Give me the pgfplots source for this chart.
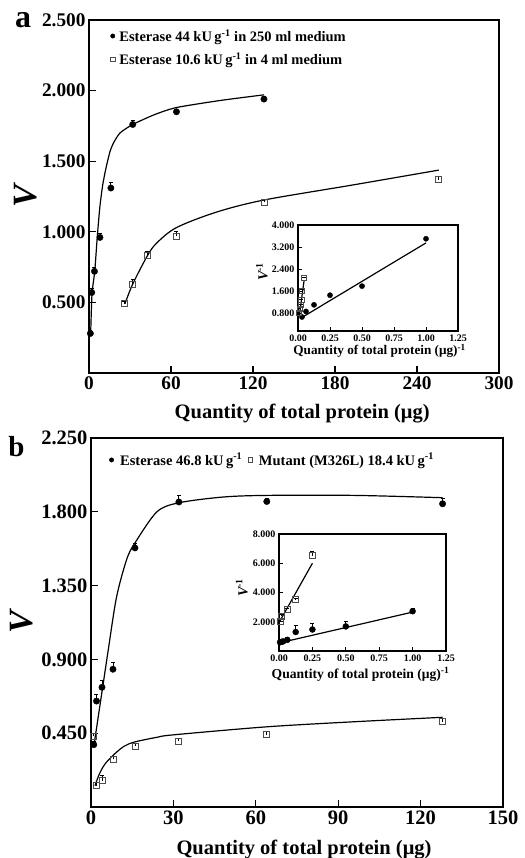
\documentclass[border=0pt]{standalone}
\usepackage{fontspec}
\setmainfont{Liberation Serif}
\usepackage{pgfplots}
\pgfplotsset{compat=1.18}

\pgfplotsset{
  panel/.style={
    scale only axis, tick pos=left, tick align=inside,
    axis line style={line width=1.5pt},
    major tick style={line width=1.2pt, black},
    major tick length=7pt,
    /pgf/number format/assume math mode=true,
    enlargelimits=false,
  },
  inset/.style={
    panel,
    axis background/.style={fill=white},
    axis line style={line width=1.2pt},
    major tick style={line width=0.9pt, black},
    major tick length=4pt,
    tick label style={font=\fontsize{10}{12}\selectfont\bfseries},
    x tick label style={/pgf/number format/.cd, fixed, fixed zerofill, precision=2},
    y tick label style={/pgf/number format/.cd, fixed, fixed zerofill, precision=3},
  },
  fitline/.style={black, line width=1.2pt, forget plot},
  ebars/.style={
    error bars/y dir=plus, error bars/y explicit,
    error bars/error bar style={line width=0.8pt, black},
    error bars/error mark options={rotate=90, mark size=2pt, line width=0.8pt, black}},
  dots/.style={only marks, mark=*, black, mark size=3.2pt, ebars},
  boxes/.style={only marks, mark=square, black!70, mark size=3pt,
    mark options={line width=0.8pt}, ebars},
  smallmark/.style={legend image code/.code={\draw[##1, mark size=2.2pt] plot coordinates {(0.1cm,0cm)}; \path (0cm,0cm) (0.22cm,0cm);}},
}

\begin{document}
\begin{tikzpicture}
\useasboundingbox (0,0) rectangle (524pt,-858pt);

\node[anchor=base, font=\fontsize{32}{34}\selectfont\bfseries] at (23pt,-27.3pt) {a};
\node[anchor=base, font=\fontsize{29}{31}\selectfont\bfseries] at (16.5pt,-456.7pt) {b};

% ---------------- panel a ----------------
\begin{axis}[panel, at={(89pt,-20pt)}, anchor=north west,
  width=410pt, height=353pt,
  xmin=0, xmax=300, ymin=0, ymax=2.5,
  xtick={0,60,...,300}, ytick={0.5,1,1.5,2,2.5},
  tick label style={font=\fontsize{19.3}{22}\selectfont\bfseries},
  y tick label style={/pgf/number format/.cd, fixed, fixed zerofill, precision=3},
  xlabel={Quantity of total protein (μg)},
  xlabel style={font=\fontsize{20.5}{24}\selectfont\bfseries,
    at={(axis description cs:0.52,-0.1303)}, anchor=base},
  ylabel={\itshape V},
  ylabel style={font=\fontsize{34}{36}\selectfont\bfseries,
    at={(axis description cs:-0.1537,0.5)}, anchor=center},
  legend style={draw=none, fill=none, inner sep=0pt, row sep=8pt,
    nodes={inner xsep=3pt, inner ysep=1pt},
    at={(axis description cs:0.05,0.977)}, anchor=north west,
    font=\fontsize{14.5}{17}\selectfont\bfseries},
  legend cell align=left,
]
\addplot[dots, smallmark] table[x=x, y=y, y error=e] {
x y e
1 0.28 0.02
2 0.57 0.03
4 0.72 0.03
8 0.96 0.03
16 1.31 0.04
32 1.76 0.03
64 1.85 0.02
128 1.94 0.02
};
\addlegendentry{Esterase 44 kU\,g\textsuperscript{-1} in 250 ml medium}
\addplot[boxes, smallmark] table[x=x, y=y, y error=e] {
x y e
25.6 0.49 0.02
32 0.63 0.03
42.7 0.83 0.03
64 0.97 0.03
128 1.21 0.02
256 1.37 0.02
};
\addlegendentry{Esterase 10.6 kU\,g\textsuperscript{-1} in 4 ml medium}
\addplot[fitline, smooth, tension=0.4] coordinates {
(1.2,0.27) (2.2,0.56) (4.2,0.72) (6.1,0.97) (8,1.18) (10,1.33)
(12.4,1.45) (15.4,1.57) (18,1.63) (22.7,1.70) (32,1.76) (48,1.83)
(64,1.88) (96,1.93) (128,1.97)};
\addplot[fitline, smooth, tension=0.5] coordinates {
(26.3,0.49) (32,0.63) (42.7,0.83) (49.5,0.92) (64,1.03) (93.4,1.14)
(128,1.225) (192,1.33) (256,1.437)};
\end{axis}

% inset a
\begin{axis}[inset, at={(298pt,-225pt)}, anchor=north west,
  width=160pt, height=106pt,
  xmin=0, xmax=1.25, ymin=0.15, ymax=4,
  xtick={0,0.25,...,1.25}, ytick={0.8,1.6,2.4,3.2,4.0},
  xlabel={Quantity of total protein (μg)\textsuperscript{-1}},
  xlabel style={font=\fontsize{13.2}{15}\selectfont\bfseries,
    at={(axis description cs:0.51,-0.226)}, anchor=base},
  ylabel={\itshape V\textsuperscript{\upshape -1}},
  ylabel style={font=\fontsize{14}{16}\selectfont\bfseries,
    at={(axis description cs:-0.225,0.557)}, anchor=center},
]
\addplot[dots, mark size=2.6pt] table[x=x, y=y, y error=e] {
x y e
0.03125 0.66 0.05
0.0625 0.86 0.05
0.125 1.10 0.05
0.25 1.45 0.05
0.5 1.78 0.05
1.0 3.50 0.05
};
\addplot[fitline] coordinates {(0.03,0.64) (1.0,3.35)};
\addplot[boxes, mark size=2.6pt] table[x=x, y=y, y error=e] {
x y e
0.006 0.82 0.03
0.012 0.96 0.03
0.020 1.10 0.03
0.026 1.28 0.03
0.033 1.62 0.03
0.048 2.07 0.03
};
\addplot[fitline] coordinates {(0.01,0.70) (0.048,2.0)};
\end{axis}

% ---------------- panel b ----------------
\begin{axis}[panel, at={(91pt,-438pt)}, anchor=north west,
  width=412pt, height=369pt,
  xmin=0, xmax=150, ymin=0, ymax=2.25,
  xtick={0,30,...,150}, ytick={0.45,0.9,1.35,1.8,2.25},
  tick label style={font=\fontsize{20.5}{24}\selectfont\bfseries},
  y tick label style={/pgf/number format/.cd, fixed, fixed zerofill, precision=3},
  xlabel={Quantity of total protein (μg)},
  xlabel style={font=\fontsize{20.5}{24}\selectfont\bfseries,
    at={(axis description cs:0.517,-0.130)}, anchor=base},
  ylabel={\itshape V},
  ylabel style={font=\fontsize{34}{36}\selectfont\bfseries,
    at={(axis description cs:-0.1675,0.5)}, anchor=center},
  legend style={draw=none, fill=none, inner sep=0pt, column sep=2pt,
    nodes={inner xsep=3pt, inner ysep=1pt},
    at={(axis description cs:0.042,0.962)}, anchor=north west,
    font=\fontsize{14.5}{17}\selectfont\bfseries},
  legend columns=2,
]
\addplot[dots, smallmark] table[x=x, y=y, y error=e] {
x y e
1 0.38 0.02
2 0.646 0.04
4 0.73 0.04
8 0.84 0.04
16 1.58 0.03
32 1.86 0.04
64 1.863 0.02
128 1.849 0.03
};
\addlegendentry{Esterase 46.8 kU\,g\textsuperscript{-1}}
\addplot[boxes, smallmark] table[x=x, y=y, y error=e] {
x y e
1 0.43 0.02
2 0.13 0.02
4 0.16 0.03
8 0.29 0.02
16 0.37 0.02
32 0.40 0.02
64 0.44 0.02
128 0.52 0.02
};
\addlegendentry{Mutant (M326L) 18.4 kU\,g\textsuperscript{-1}}
\addplot[fitline, smooth, tension=0.5] coordinates {
(1.2,0.39) (4.25,0.73) (6.3,0.96) (9.3,1.28) (13,1.51) (16,1.61)
(24,1.80) (32,1.855) (48,1.89) (64,1.90) (96,1.90) (128,1.886)};
\addplot[fitline, smooth, tension=0.5] coordinates {
(1.45,0.13) (3,0.20) (5,0.26) (8.1,0.316) (12,0.37) (16,0.397)
(24,0.425) (30,0.44) (64,0.489) (96,0.52) (128,0.547)};
\end{axis}

% inset b
\begin{axis}[inset, at={(279pt,-534pt)}, anchor=north west,
  width=167pt, height=117pt,
  xmin=0, xmax=1.25, ymin=0, ymax=8,
  xtick={0,0.25,...,1.25}, ytick={2,4,6,8},
  xlabel={Quantity of total protein (μg)\textsuperscript{-1}},
  xlabel style={font=\fontsize{13.6}{15}\selectfont\bfseries,
    at={(axis description cs:0.488,-0.239)}, anchor=base},
  ylabel={\itshape V\textsuperscript{\upshape -1}},
  ylabel style={font=\fontsize{14}{16}\selectfont\bfseries,
    at={(axis description cs:-0.222,0.54)}, anchor=center},
]
\addplot[dots, mark size=3pt] table[x=x, y=y, y error=e] {
x y e
0.0078 0.60 0.10
0.0156 0.62 0.10
0.03125 0.66 0.15
0.0625 0.76 0.20
0.125 1.30 0.45
0.25 1.47 0.45
0.5 1.68 0.35
1.0 2.72 0.20
};
\addplot[fitline] coordinates {(0.01,0.57) (1.0,2.66)};
\addplot[boxes, mark size=3pt] table[x=x, y=y, y error=e] {
x y e
0.0078 2.04 0.10
0.0156 2.38 0.10
0.0625 2.84 0.10
0.125 3.52 0.10
0.25 6.53 0.25
};
\addplot[fitline] coordinates {(0.01,2.1) (0.25,6.0)};
\end{axis}
\end{tikzpicture}
\end{document}
